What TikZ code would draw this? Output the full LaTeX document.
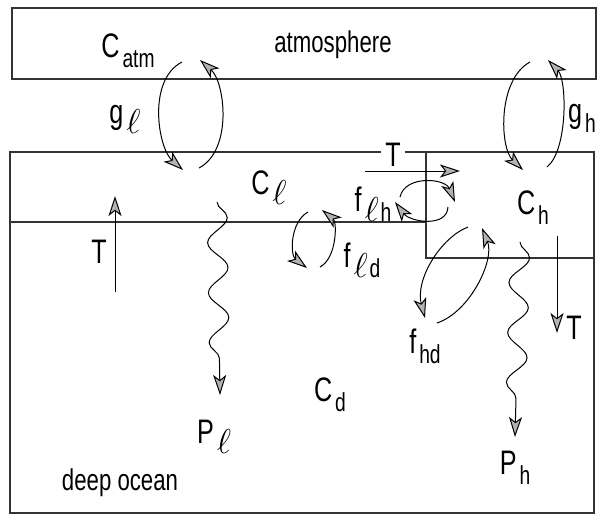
\documentclass[tikz,border=0pt]{standalone}
\usepackage{fontspec}
\setmainfont{Liberation Sans}[FakeStretch=0.74]
\usetikzlibrary{arrows.meta,decorations.pathmorphing}

\newcommand{\sub}[1]{\kern1.5pt\raisebox{-0.55ex}{\fontsize{13}{15}\selectfont #1}}
\newcommand{\lsub}{{\fontsize{16}{18}\selectfont$\ell$}\kern1pt}

\begin{document}
\begin{tikzpicture}[x=0.5pt, y=-0.5pt,
    box/.style={draw=black!80, line width=1pt},
    flux/.style={-{Stealth[length=10pt, width=6.5pt, inset=2.5pt, fill=gray!60]}, line width=0.5pt},
    wavy/.style={flux, decorate, decoration={snake, segment length=25pt, amplitude=5pt, post length=15pt}},
    lbl/.style={font=\fontsize{17}{20}\selectfont, inner sep=1pt},
    word/.style={font=\fontsize{15}{18}\selectfont, inner sep=1pt}]
    \useasboundingbox (0,0) rectangle (600,515);

    % Boxes
    \draw [box] (12,8) rectangle (596,79);
    \draw [box] (10,152) -- (594,152) -- (594,513) -- (10,513) -- cycle;
    \draw [box] (10,222) -- (426,222);
    \draw [box] (426,152) -- (426,258) -- (594,258);

    % Labels
    \node [lbl] (catm) at (128,51) {C\sub{atm}};
    \node [word] (atmos) at (333,45) {atmosphere};
    \node [lbl] (gl) at (126,119) {g\sub{\lsub}};
    \node [lbl] (gh) at (582,118) {g\sub{h}};
    \node [lbl, fill=white, inner sep=2pt] (Ttop) at (393,155) {T};
    \node [lbl] (cl) at (270,188) {C\sub{\lsub}};
    \node [lbl] (flh) at (373,204) {f\sub{\lsub h}};
    \node [lbl] (ch) at (533,208) {C\sub{h}};
    \node [lbl] (fld) at (362,260) {f\sub{\lsub d}};
    \node [lbl] (Tleft) at (99,252) {T};
    \node [lbl] (Tright) at (574,328) {T};
    \node [lbl] (fhd) at (425,346) {f\sub{hd}};
    \node [lbl] (cd) at (330,395) {C\sub{d}};
    \node [lbl] (pl) at (215,437) {P\sub{\lsub}};
    \node [lbl] (ph) at (515,468) {P\sub{h}};
    \node [word] (deep) at (120,483) {deep ocean};

    % Gas exchange
    \draw [flux] (182,62) .. controls (147,80) and (158,148) .. (183,170);
    \draw [flux] (199,168) .. controls (233,150) and (225,82) .. (200,60);
    \draw [flux] (530,62) .. controls (497,80) and (500,148) .. (523,170);
    \draw [flux] (547,167) .. controls (568,150) and (567,80) .. (548,60);

    % Mixing
    \draw [flux] (400,197) .. controls (405,175) and (445,178) .. (455,202);
    \draw [flux] (448,207) .. controls (447,228) and (410,222) .. (395,202);
    \draw [flux] (308,212) .. controls (290,222) and (290,255) .. (307,268);
    \draw [flux] (320,267) .. controls (337,258) and (337,222) .. (322,210);
    \draw [flux] (468,227) .. controls (440,238) and (415,280) .. (425,318);
    \draw [flux] (437,323) .. controls (470,312) and (495,260) .. (482,228);

    % Circulation
    \draw [flux] (365,171) -- (460,171);
    \draw [flux] (115,292) -- (115,196);
    \draw [flux] (557,236) -- (557,333);

    % Particle flux
    \draw [wavy] (217,202) -- (220,395);
    \draw [wavy] (520,242) -- (515,437);
\end{tikzpicture}
\end{document}
